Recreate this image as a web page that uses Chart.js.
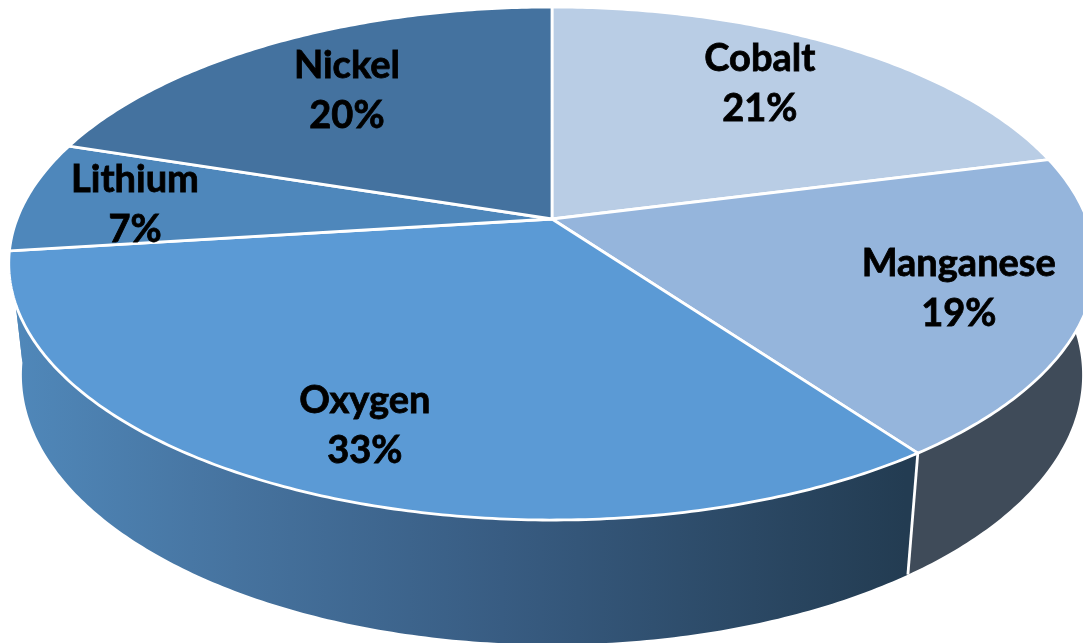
<!DOCTYPE html>
<html lang="en">
<head>
<meta charset="UTF-8">
<title>Battery Cathode Composition</title>
<script src="https://cdn.jsdelivr.net/npm/chart.js"></script>
<style>
    html, body {
        margin: 0;
        padding: 0;
        background-color: #fff;
    }
    canvas {
        display: block;
    }
</style>
</head>
<body>
<canvas id="pieChart" width="1083" height="643"></canvas>

<script>
    const elements = ['Cobalt', 'Manganese', 'Oxygen', 'Lithium', 'Nickel'];
    const shares = [21, 19, 33, 7, 20];
    const sliceColors = ['#b9cde5', '#95b5dc', '#5b9ad5', '#4e87bb', '#44729f'];
    const labelRadius = [0.741, 0.772, 0.786, 0.79, 0.708];
    const labelNudge = [-2.4, 0.2, -0.5, -1, -0.5]; // degrees off the slice middle

    // perspective of the tilted disc
    const view = { cx: 552, cy: 219, a: 535, b: 248.8, tilt: 0.1735, sink: 0.024, drop: 113 };

    // depth 0 is the top face, depth 1 the bottom rim
    function project(angle, radius, depth) {
        const u = radius * Math.cos(angle);
        const v = -radius * Math.sin(angle);
        const w = 1 + view.tilt * v + view.sink * depth;
        return {
            x: view.cx + view.a * u / w,
            y: view.cy + (-view.b * v + view.drop * depth) / w
        };
    }

    function rimPath(ctx, start, end, depth, moveFirst) {
        const steps = Math.max(2, Math.ceil(Math.abs(end - start) * 90));
        for (let i = 0; i <= steps; i++) {
            const p = project(start + (end - start) * i / steps, 1, depth);
            if (i === 0 && moveFirst) ctx.moveTo(p.x, p.y);
            else ctx.lineTo(p.x, p.y);
        }
    }

    function wallFill(ctx, index) {
        if (elements[index] === 'Manganese') return '#3f4b59';
        const grad = ctx.createLinearGradient(10, 0, 905, 0);
        grad.addColorStop(0, '#5088ba');
        grad.addColorStop(0.25, '#46739f');
        grad.addColorStop(0.55, '#385c82');
        grad.addColorStop(1, '#233c52');
        return grad;
    }

    const perspectivePie = {
        id: 'perspectivePie',
        beforeDatasetDraw(chart, args) {
            const ctx = chart.ctx;
            const arcs = args.meta.data;
            ctx.save();

            // side wall first, the top face covers its hidden part
            arcs.forEach(function(arc, i) {
                ctx.beginPath();
                rimPath(ctx, arc.startAngle, arc.endAngle, 0, true);
                rimPath(ctx, arc.endAngle, arc.startAngle, 1, false);
                ctx.closePath();
                ctx.fillStyle = wallFill(ctx, i);
                ctx.fill();
            });

            // divider on the front of the wall
            arcs.forEach(function(arc) {
                const top = project(arc.endAngle, 1, 0);
                const bottom = project(arc.endAngle, 1, 1);
                if (bottom.y > view.cy + 300) {
                    ctx.beginPath();
                    ctx.moveTo(top.x, top.y);
                    ctx.lineTo(bottom.x, bottom.y);
                    ctx.strokeStyle = arc.options.borderColor;
                    ctx.lineWidth = arc.options.borderWidth;
                    ctx.stroke();
                }
            });

            arcs.forEach(function(arc) {
                ctx.beginPath();
                ctx.moveTo(view.cx, view.cy);
                rimPath(ctx, arc.startAngle, arc.endAngle, 0, false);
                ctx.closePath();
                ctx.fillStyle = arc.options.backgroundColor;
                ctx.fill();
                ctx.strokeStyle = arc.options.borderColor;
                ctx.lineWidth = arc.options.borderWidth;
                ctx.lineJoin = 'round';
                ctx.stroke();
            });

            ctx.restore();
            return false;
        },
        afterDatasetsDraw(chart) {
            const ctx = chart.ctx;
            ctx.save();
            ctx.font = 'bold 38px Lato, sans-serif';
            ctx.fillStyle = '#000';
            ctx.strokeStyle = '#000';
            ctx.lineWidth = 0.8;
            ctx.textAlign = 'center';
            ctx.textBaseline = 'middle';
            chart.getDatasetMeta(0).data.forEach(function(arc, i) {
                const mid = (arc.startAngle + arc.endAngle) / 2 + labelNudge[i] * Math.PI / 180;
                const p = project(mid, labelRadius[i], 0);
                [elements[i], shares[i] + '%'].forEach(function(line, n) {
                    const y = p.y + 1 + (n === 0 ? -25 : 25);
                    ctx.fillText(line, p.x, y);
                    ctx.strokeText(line, p.x, y);
                });
            });
            ctx.restore();
        }
    };

    new Chart(document.getElementById('pieChart'), {
        type: 'pie',
        data: {
            labels: elements,
            datasets: [{
                data: shares,
                backgroundColor: sliceColors,
                borderColor: '#fff',
                borderWidth: 2.8
            }]
        },
        options: {
            responsive: false,
            animation: false,
            plugins: {
                legend: { display: false },
                tooltip: { enabled: false }
            }
        },
        plugins: [perspectivePie]
    });
</script>
</body>
</html>
